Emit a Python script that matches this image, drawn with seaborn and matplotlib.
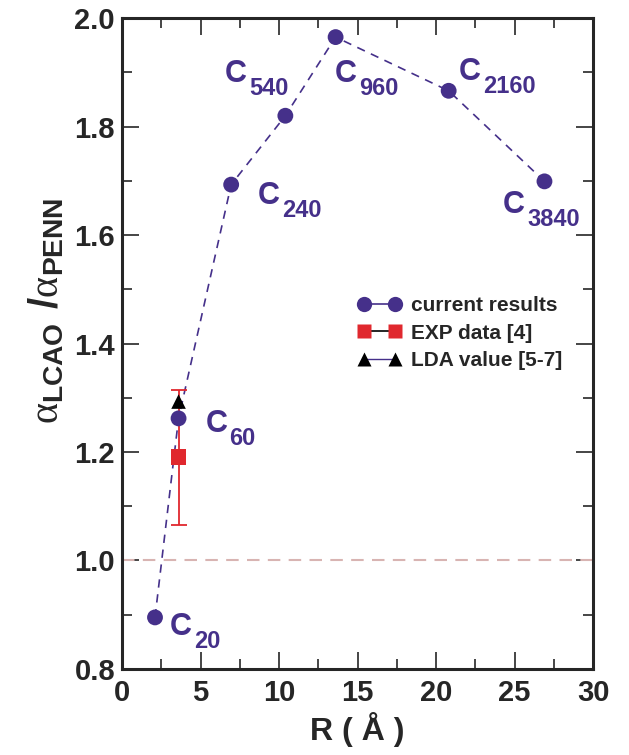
import matplotlib
matplotlib.use("Agg")
import matplotlib.pyplot as plt
from matplotlib.lines import Line2D
from matplotlib.ticker import MultipleLocator, FormatStrFormatter
import pandas as pd
import seaborn as sns

# data
cluster_names = ["20", "60", "240", "540", "960", "2160", "3840"]
radius = [2.1, 3.6, 6.95, 10.4, 13.6, 20.8, 26.9]
ratio = [0.895, 1.262, 1.693, 1.820, 1.965, 1.866, 1.699]

exp_radius = [3.6]
exp_ratio = [1.19]
exp_err = [0.124]

lda_radius = [3.6]
lda_ratio = [1.293]

# label anchors (left, baseline of the "C") in data units
label_x = [3.05, 5.3, 8.65, 6.55, 13.55, 21.45, 24.25]
label_y = [0.862, 1.237, 1.657, 1.882, 1.882, 1.886, 1.641]

PURPLE = "#45308a"
RED = "#e0282e"

sns.set_style("ticks")
plt.rcParams["font.family"] = ["Liberation Sans", "DejaVu Sans"]
plt.rcParams["font.weight"] = "bold"
plt.rcParams["mathtext.fontset"] = "custom"
plt.rcParams["mathtext.rm"] = "Liberation Sans:bold"
plt.rcParams["mathtext.bf"] = "Liberation Sans:bold"
plt.rcParams["mathtext.it"] = "Liberation Serif:weight=normal"

df = pd.DataFrame({"R": radius, "ratio": ratio})
df_exp = pd.DataFrame({"R": exp_radius, "ratio": exp_ratio})
df_lda = pd.DataFrame({"R": lda_radius, "ratio": lda_ratio})

fig = plt.figure(figsize=(6.29, 7.55), dpi=100)
ax = fig.add_axes([0.194, 0.114, 0.749, 0.862])

ax.axhline(1.0, color="#d8b4b2", lw=1.5, ls=(0, (6, 4)), zorder=1)

sns.lineplot(data=df, x="R", y="ratio", color=PURPLE, lw=1.2, ls=(0, (5, 4)),
             sort=False, ax=ax, zorder=2)
sns.scatterplot(data=df, x="R", y="ratio", color=PURPLE, s=130, marker="o",
                edgecolor="none", ax=ax, zorder=4)

ax.errorbar(exp_radius, exp_ratio, yerr=exp_err, fmt="none", ecolor=RED,
            elinewidth=1.3, capsize=6, capthick=1.3, zorder=3)
sns.scatterplot(data=df_exp, x="R", y="ratio", color=RED, s=130, marker="s",
                edgecolor="none", ax=ax, zorder=5)
sns.scatterplot(data=df_lda, x="R", y="ratio", color="black", s=110, marker="^",
                edgecolor="none", ax=ax, zorder=5)

# "C" plus a dropped subscript, like the original
for name, tx, ty in zip(cluster_names, label_x, label_y):
    ax.text(tx, ty, "C", color=PURPLE, fontsize=22, fontweight="bold",
            ha="left", va="baseline")
    ax.annotate(name, (tx, ty), xytext=(17.5, -9.5), textcoords="offset points",
                color=PURPLE, fontsize=17, fontweight="bold",
                ha="left", va="baseline")

ax.set_xlim(0, 30)
ax.set_ylim(0.8, 2.0)
ax.xaxis.set_major_locator(MultipleLocator(5))
ax.xaxis.set_minor_locator(MultipleLocator(2.5))
ax.yaxis.set_major_locator(MultipleLocator(0.2))
ax.yaxis.set_minor_locator(MultipleLocator(0.1))
ax.yaxis.set_major_formatter(FormatStrFormatter("%.1f"))
ax.tick_params(which="both", direction="in", top=True, right=True,
               labelsize=21, width=1.2)
ax.tick_params(axis="x", pad=7)
ax.tick_params(axis="y", pad=5)
ax.tick_params(which="major", length=12)
ax.tick_params(which="minor", length=7)
for lbl in ax.get_xticklabels() + ax.get_yticklabels():
    lbl.set_fontweight("bold")
for sp in ax.spines.values():
    sp.set_visible(True)
    sp.set_linewidth(2.2)

ax.set_xlabel("R ( Å )", fontsize=23, fontweight="bold", labelpad=4)
ax.set_ylabel(r"$\mathit{\alpha}_{\mathbf{LCAO}}\;\,/\mathit{\alpha}_{\mathbf{PENN}}$",
              fontsize=29)
ax.yaxis.set_label_coords(-0.118, 0.55)

handles = [
    Line2D([], [], color=PURPLE, lw=1.2, marker="o", ms=11, mec="none"),
    Line2D([], [], color="black", lw=1.2, marker="s", ms=10, mfc=RED, mec="none"),
    Line2D([], [], color=PURPLE, lw=1.0, marker="^", ms=10, mfc="black", mec="none"),
]
ax.legend(handles, ["current results", "EXP data [4]", "LDA value [5-7]"],
          loc="upper left", bbox_to_anchor=(0.46, 0.602), numpoints=2,
          frameon=False, handlelength=2.1, handletextpad=0.45, labelspacing=0.42,
          prop={"weight": "bold", "size": 15})

fig.savefig("out.png", dpi=100)
